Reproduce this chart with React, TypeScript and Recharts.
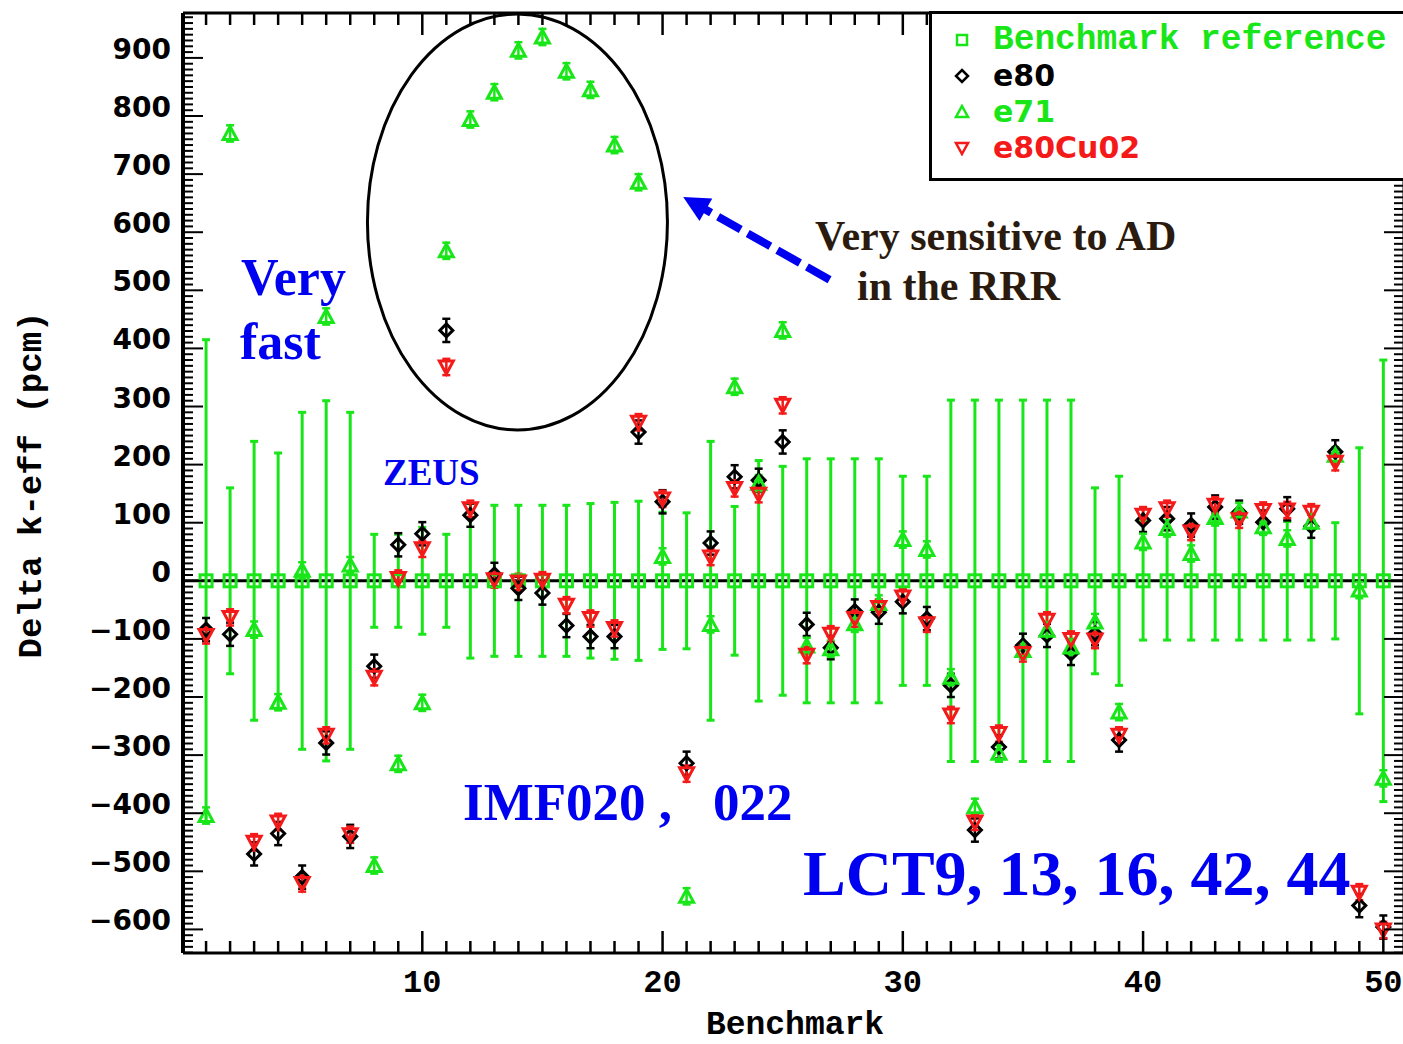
import React from 'react';
import { ComposedChart, Scatter, XAxis, YAxis, ErrorBar, ReferenceLine, ReferenceDot, Legend } from 'recharts';

const GREEN = '#19e619';
const RED = '#f41a1a';
const BLUE = '#0000f0';
const BROWN = '#2b1b0e';
const MONO = '"Liberation Mono", "DejaVu Sans Mono", monospace';
const SANS = '"DejaVu Sans", sans-serif';
const SERIF = '"Liberation Serif", "Times New Roman", serif';

// benchmark index 1..50
const benchmarks = [
    1, 2, 3, 4, 5, 6, 7, 8, 9, 10, 11, 12, 13, 14, 15, 16, 17, 18, 19, 20, 21, 22, 23, 24, 25,
    26, 27, 28, 29, 30, 31, 32, 33, 34, 35, 36, 37, 38, 39, 40, 41, 42, 43, 44, 45, 46, 47, 48, 49, 50,
];
// experimental uncertainty of the benchmark (pcm)
const benchmarkErr = [
    415, 160, 240, 220, 290, 310, 290, 80, 80, 92, 80, 133, 130, 130, 130, 130, 133, 135, 137, 118, 117, 240, 128, 207, 197,
    210, 210, 210, 210, 180, 180, 311, 311, 311, 311, 311, 311, 160, 180, 102, 102, 102, 102, 102, 102, 102, 102, 100, 229, 380,
];
const e80 = [
    -84, -92, -470, -435, -510, -279, -440, -147, 62, 81, 431, 113, 11, -13, -21, -77, -96, -96, 256, 136, -314, 65, 179, 173, 239,
    -75, -115, -52, -54, -36, -65, -180, -429, -286, -111, -94, -125, -91, -274, 104, 107, 96, 127, 118, 101, 124, 94, 222, -559, -596,
];
const e71 = [
    -404, 770, -84, -209, 18, 455, 27, -490, -315, -210, 568, 794, 841, 913, 936, 877, 845, 750, 686, 42, -543, -75, 334, 168, 431,
    -112, -117, -74, -39, 71, 54, -166, -389, -297, -120, -85, -114, -71, -226, 67, 90, 47, 109, 120, 93, 73, 101, 216, -16, -340,
];
const e80Cu02 = [
    -94, -63, -450, -415, -521, -266, -437, -166, 4, 55, 368, 124, 2, -2, 1, -42, -65, -82, 273, 141, -332, 41, 159, 149, 302,
    -128, -92, -65, -46, -28, -74, -231, -415, -263, -125, -68, -101, -102, -266, 113, 124, 84, 130, 105, 121, 122, 118, 204, -536, -601,
];
// statistical uncertainty of the calculations (pcm)
const e80Err = 20;
const e71Err = 14;
const e80Cu02Err = 14;

const xTickLabels = [10, 20, 30, 40, 50];
const yTickLabels = [-600, -500, -400, -300, -200, -100, 0, 100, 200, 300, 400, 500, 600, 700, 800, 900];

const X_DOMAIN = [0.04, 50.86];
const Y_DOMAIN = [-640.6, 977.3];

const yMinorTicks: number[] = [];
for (let v = -640; v <= 970; v += 10) yMinorTicks.push(v);

const refRows = benchmarks.map((b, i) => ({ x: b, y: 0, err: benchmarkErr[i] }));
const e80Rows = benchmarks.map((b, i) => ({ x: b, y: e80[i], err: e80Err }));
const e71Rows = benchmarks.map((b, i) => ({ x: b, y: e71[i], err: e71Err }));
const cuRows = benchmarks.map((b, i) => ({ x: b, y: e80Cu02[i], err: e80Cu02Err }));

// markers
const Square = (p: any) => (
    <rect x={p.cx - 6} y={p.cy - 6} width={12} height={12} fill="none" stroke={GREEN} strokeWidth={3} />
);
const Diamond = (p: any) => (
    <path d={`M${p.cx},${p.cy - 6.5}L${p.cx + 6.5},${p.cy}L${p.cx},${p.cy + 6.5}L${p.cx - 6.5},${p.cy}Z`} fill="none" stroke="#000" strokeWidth={3} />
);
const TriUp = (p: any) => (
    <path d={`M${p.cx},${p.cy - 7}L${p.cx + 7},${p.cy + 6}L${p.cx - 7},${p.cy + 6}Z`} fill="none" stroke={GREEN} strokeWidth={3} />
);
const TriDown = (p: any) => (
    <path d={`M${p.cx},${p.cy + 7}L${p.cx + 7},${p.cy - 6}L${p.cx - 7},${p.cy - 6}Z`} fill="none" stroke={RED} strokeWidth={3} />
);

// axis ticks (drawn inward, like the original plot)
const BottomTick = ({ x, y, payload }: any) => {
    const major = xTickLabels.includes(payload.value);
    return (
        <g>
            <line x1={x} x2={x} y1={y} y2={y - (major ? 22 : 12)} stroke="#000" strokeWidth={2.5} />
            {major && (
                <text x={x} y={y + 39} textAnchor="middle" fontFamily={MONO} fontWeight="bold" fontSize={32} fill="#000">
                    {payload.value}
                </text>
            )}
        </g>
    );
};
const TopTick = ({ x, y, payload }: any) => {
    const major = xTickLabels.includes(payload.value);
    return <line x1={x} x2={x} y1={y} y2={y + (major ? 22 : 12)} stroke="#000" strokeWidth={2.5} />;
};
const fmt = (v: number) => (v < 0 ? '\u2212' + Math.abs(v) : String(v));
const LeftTick = ({ x, y, payload }: any) => {
    const major = yTickLabels.includes(payload.value);
    return (
        <g>
            <line x1={x} x2={x + (major ? 20 : 10)} y1={y} y2={y} stroke="#000" strokeWidth={2} />
            {major && (
                <text x={x - 12} y={y + 1} textAnchor="end" fontFamily={SANS} fontWeight="bold" fontSize={28} fill="#000">
                    {fmt(payload.value)}
                </text>
            )}
        </g>
    );
};
const RightTick = ({ x, y, payload }: any) => {
    const major = yTickLabels.includes(payload.value);
    return <line x1={x} x2={x - (major ? 20 : 10)} y1={y} y2={y} stroke="#000" strokeWidth={2} />;
};

// annotations anchored in data space
const Ellipse = (p: any) => <ellipse cx={p.cx} cy={p.cy} rx={150} ry={208} fill="none" stroke="#000" strokeWidth={3} />;
const Arrow = (p: any) => {
    const { cx, cy } = p;
    const ux = 0.871, uy = 0.492;
    const len = 168;
    const head = 26;
    const bx = cx + ux * head, by = cy + uy * head;
    return (
        <g>
            <line x1={cx + ux * len} y1={cy + uy * len} x2={bx - ux * 2} y2={by - uy * 2} stroke={BLUE} strokeWidth={8} strokeDasharray="26 8" />
            <path d={`M${cx},${cy}L${bx - uy * 13},${by + ux * 13}L${bx + uy * 13},${by - ux * 13}Z`} fill={BLUE} />
        </g>
    );
};

const legendItems = [
    { name: 'Benchmark reference', color: GREEN, font: MONO, size: 34.5, marker: 'square' },
    { name: 'e80', color: '#000', font: SANS, size: 30, marker: 'diamond' },
    { name: 'e71', color: GREEN, font: SANS, size: 30, marker: 'up' },
    { name: 'e80Cu02', color: RED, font: SANS, size: 30, marker: 'down' },
];

const LegendMarker = ({ kind, color }: { kind: string; color: string }) => (
    <svg width={16} height={16} style={{ display: 'block' }}>
        {kind === 'square' && <rect x={3} y={3} width={10} height={10} fill="none" stroke={color} strokeWidth={2.5} />}
        {kind === 'diamond' && <path d="M8,2L14,8L8,14L2,8Z" fill="none" stroke={color} strokeWidth={2.5} />}
        {kind === 'up' && <path d="M8,2L14,13L2,13Z" fill="none" stroke={color} strokeWidth={2.5} />}
        {kind === 'down' && <path d="M8,14L14,3L2,3Z" fill="none" stroke={color} strokeWidth={2.5} />}
    </svg>
);

const renderLegend = () => (
    <div style={{ position: 'relative', width: 500, height: 170, border: '3px solid #000', boxSizing: 'border-box', background: '#fff' }}>
        {legendItems.map((it, i) => (
            <div key={it.name} style={{ position: 'absolute', left: 0, top: 8 + i * 36, width: 490, height: 36 }}>
                <div style={{ position: 'absolute', left: 22, top: 10 }}>
                    <LegendMarker kind={it.marker} color={it.color} />
                </div>
                <span style={{ position: 'absolute', left: 61, top: 0, fontFamily: it.font, fontWeight: 'bold', fontSize: it.size, color: it.color, lineHeight: '36px', whiteSpace: 'nowrap' }}>
                    {it.name}
                </span>
            </div>
        ))}
    </div>
);

export default function App() {
    return (
        <div style={{ position: 'absolute', left: 0, top: 0, width: 1403, height: 1044, overflow: 'hidden', background: '#fff' }}>
            <ComposedChart width={1410} height={1044} margin={{ top: 12, right: 5, bottom: 31, left: 33 }}>
                <XAxis
                    xAxisId="bottom"
                    dataKey="x"
                    type="number"
                    domain={X_DOMAIN}
                    allowDataOverflow
                    ticks={benchmarks}
                    interval={0}
                    tick={<BottomTick />}
                    tickLine={false}
                    tickSize={0}
                    tickMargin={0}
                    height={60}
                    axisLine={{ stroke: '#000', strokeWidth: 3 }}
                />
                <XAxis
                    xAxisId="top"
                    orientation="top"
                    dataKey="x"
                    type="number"
                    domain={X_DOMAIN}
                    allowDataOverflow
                    ticks={benchmarks}
                    interval={0}
                    tick={<TopTick />}
                    tickLine={false}
                    tickSize={0}
                    tickMargin={0}
                    height={1}
                    axisLine={{ stroke: '#000', strokeWidth: 3 }}
                />
                <YAxis
                    yAxisId="left"
                    type="number"
                    domain={Y_DOMAIN}
                    allowDataOverflow
                    ticks={yMinorTicks}
                    interval={0}
                    tick={<LeftTick />}
                    tickLine={false}
                    tickSize={0}
                    tickMargin={0}
                    width={150}
                    axisLine={{ stroke: '#000', strokeWidth: 4 }}
                />
                <YAxis
                    yAxisId="right"
                    orientation="right"
                    type="number"
                    domain={Y_DOMAIN}
                    allowDataOverflow
                    ticks={yMinorTicks}
                    interval={0}
                    tick={<RightTick />}
                    tickLine={false}
                    tickSize={0}
                    tickMargin={0}
                    width={1}
                    axisLine={{ stroke: '#000', strokeWidth: 3 }}
                />
                <ReferenceLine xAxisId="bottom" yAxisId="left" y={0} stroke="#000" strokeWidth={3} />
                <Scatter name="Benchmark reference" xAxisId="bottom" yAxisId="left" data={refRows} dataKey="y" shape={Square} isAnimationActive={false}>
                    <ErrorBar dataKey="err" direction="y" width={4} stroke={GREEN} strokeWidth={3} />
                </Scatter>
                <Scatter name="e80" xAxisId="bottom" yAxisId="left" data={e80Rows} dataKey="y" shape={Diamond} isAnimationActive={false}>
                    <ErrorBar dataKey="err" direction="y" width={4} stroke="#000" strokeWidth={2.5} />
                </Scatter>
                <Scatter name="e71" xAxisId="bottom" yAxisId="left" data={e71Rows} dataKey="y" shape={TriUp} isAnimationActive={false}>
                    <ErrorBar dataKey="err" direction="y" width={4} stroke={GREEN} strokeWidth={2.5} />
                </Scatter>
                <Scatter name="e80Cu02" xAxisId="bottom" yAxisId="left" data={cuRows} dataKey="y" shape={TriDown} isAnimationActive={false}>
                    <ErrorBar dataKey="err" direction="y" width={4} stroke={RED} strokeWidth={2.5} />
                </Scatter>
                <ReferenceDot xAxisId="bottom" yAxisId="left" x={13.96} y={617.6} shape={Ellipse} />
                <ReferenceDot xAxisId="bottom" yAxisId="left" x={20.86} y={660.6} shape={Arrow} />
                <Legend
                    content={renderLegend}
                    layout="horizontal"
                    verticalAlign="middle"
                    align="center"
                    wrapperStyle={{ position: 'absolute', left: 929, top: 11, width: 500, height: 170 }}
                />
            </ComposedChart>
            <svg width={1403} height={1044} style={{ position: 'absolute', left: 0, top: 0, pointerEvents: 'none' }}>
                <text x={795} y={1034} textAnchor="middle" fontFamily={MONO} fontWeight="bold" fontSize={33} fill="#000">
                    Benchmark
                </text>
                <text x={41} y={485} transform="rotate(-90, 41, 485)" textAnchor="middle" fontFamily={MONO} fontWeight="bold" fontSize={34} fill="#000">
                    Delta k-eff (pcm)
                </text>
                <g fontFamily={SERIF} fontWeight="bold">
                    <text x={241} y={295} fontSize={52} fill={BLUE}>Very</text>
                    <text x={240} y={359} fontSize={52} fill={BLUE}>fast</text>
                    <text x={383} y={485} fontSize={37} fill={BLUE}>ZEUS</text>
                    <text x={463} y={820} fontSize={53} fill={BLUE}>IMF020 ,</text>
                    <text x={713} y={820} fontSize={53} fill={BLUE}>022</text>
                    <text x={803} y={895} fontSize={64} fill={BLUE}>LCT9, 13, 16, 42, 44</text>
                    <text x={815} y={250} fontSize={42} fill={BROWN}>Very sensitive to AD</text>
                    <text x={857} y={300} fontSize={42} fill={BROWN}>in the RRR</text>
                </g>
            </svg>
        </div>
    );
}
